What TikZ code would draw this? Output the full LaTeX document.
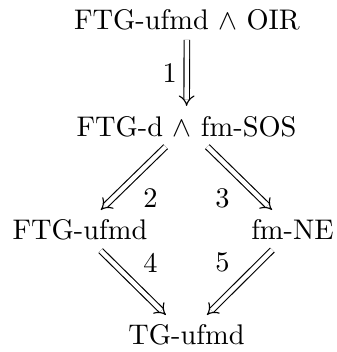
\documentclass[tikz,border=0pt]{standalone}
\usepackage{tikz}
\usetikzlibrary{cd}

\begin{document}
\begin{tikzpicture}[imp/.style={commutative diagrams/.cd,Rightarrow},
		stmt/.style={anchor=base}]
\useasboundingbox (0,0) rectangle (4.172,-4.358);

\node[stmt,name=FTG-OIR] at (2.315,-0.363) {FTG-ufmd $\wedge$ OIR};
\node[stmt,name=FTGd-SOS] at (2.309,-1.684) {FTG-d $\wedge$ fm-SOS};
\node[stmt,name=FTG-ufmd] at (0.990,-2.971) {FTG-ufmd};
\node[stmt,name=fm-NE] at (3.621,-2.971) {fm-NE};
\node[stmt,name=TG-ufmd] at (2.309,-4.271) {TG-ufmd};

\draw[imp] (FTG-OIR) -- (FTGd-SOS) node[midway,left,name=l1]{1};
\draw[imp] (FTGd-SOS) -- (FTG-ufmd) node[midway,below right,name=l2]{2};
\draw[imp] (FTGd-SOS) -- (fm-NE) node[midway,below left,name=l3]{3};
\draw[imp] (FTG-ufmd) -- (TG-ufmd) node[midway,above right,name=l4]{4};
\draw[imp] (fm-NE) -- (TG-ufmd) node[midway,above left,name=l5]{5};

\end{tikzpicture}
\end{document}
